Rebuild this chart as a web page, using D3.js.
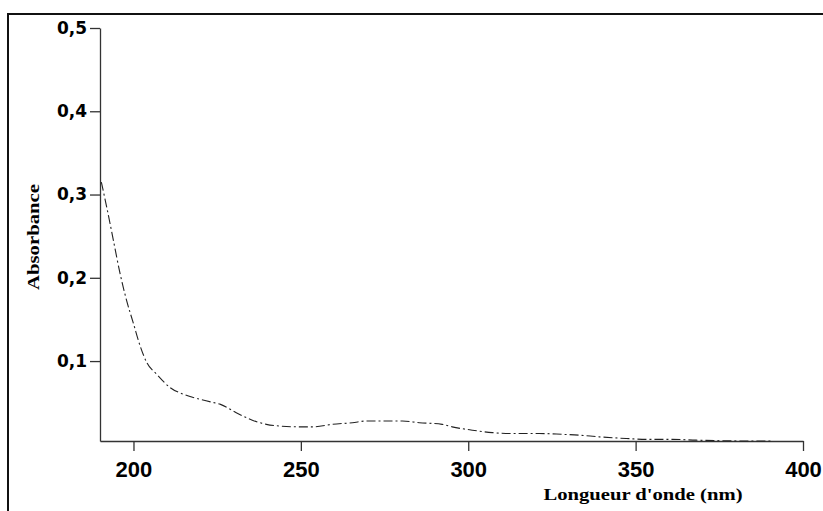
<!DOCTYPE html>
<html>
<head>
<meta charset="utf-8">
<script src="https://cdn.jsdelivr.net/npm/d3@7"></script>
<style>
  body { margin: 0; background: #fff; }
  svg { display: block; }
</style>
</head>
<body>
<script>
// spectre UV : absorbance vs longueur d'onde
const wavelength = [190.4, 192, 194, 196, 198, 200, 202, 204, 207, 211, 215, 219, 223, 226,
  230.7, 235.5, 239.7, 243.6, 249.6, 253.4, 259.4, 265.4, 269.6, 276.4, 280.3, 285.4, 292.2, 295.2, 301.2,
  307.2, 313.1, 321.2, 328.1, 333.1, 339.1, 347.2, 353.1, 360.9, 368.1, 384.8, 390.7]
const absorbance = [0.315, 0.285, 0.245, 0.205, 0.172, 0.145, 0.118, 0.098, 0.084, 0.068, 0.060, 0.055, 0.051, 0.048,
  0.038, 0.029, 0.024, 0.022, 0.021, 0.021, 0.024, 0.026, 0.028, 0.028, 0.028, 0.026, 0.024, 0.021, 0.017,
  0.014, 0.013, 0.013, 0.012, 0.011, 0.009, 0.007, 0.006, 0.006, 0.005, 0.004, 0.004]
const xTicks = [200, 250, 300, 350, 400]
const yTicks = [0.1, 0.2, 0.3, 0.4, 0.5]

const width = 823, height = 511

const svg = d3.select("body").append("svg")
    .attr("width", width)
    .attr("height", height)

// cadre extérieur
svg.append("rect")
    .attr("x", 8).attr("y", 14)
    .attr("width", 830).attr("height", 520)
    .attr("fill", "none")
    .attr("stroke", "#111")
    .attr("stroke-width", 2)

const x = d3.scaleLinear().domain([190, 400]).range([100, 803])
const y = d3.scaleLinear().domain([0.004, 0.5]).range([441, 28])

// axe x
const gx = svg.append("g")
    .attr("transform", `translate(0,${y(0.004)})`)
    .call(d3.axisBottom(x).tickValues(xTicks).tickSize(10).tickSizeOuter(0).tickPadding(10))
gx.select(".domain").attr("stroke", "#333").attr("stroke-width", 1.3)
gx.selectAll(".tick line").attr("stroke", "#333").attr("stroke-width", 1.3)
gx.selectAll("text")
    .attr("font-family", "'Liberation Sans', Arial, sans-serif")
    .attr("font-weight", "bold")
    .attr("font-size", 22)
    .attr("fill", "#000")

// axe y
const gy = svg.append("g")
    .attr("transform", `translate(${x(190)},0)`)
    .call(d3.axisLeft(y).tickValues(yTicks).tickSize(10).tickSizeOuter(0).tickPadding(3)
      .tickFormat(d => d3.format(".1f")(d).replace(".", ",")))
gy.select(".domain").attr("stroke", "#333").attr("stroke-width", 1.3)
gy.selectAll(".tick line").attr("stroke", "#333").attr("stroke-width", 1.3)
gy.selectAll("text")
    .attr("font-family", "'DejaVu Sans', sans-serif")
    .attr("font-weight", "bold")
    .attr("font-size", 17)
    .attr("fill", "#000")

// titres des axes
svg.append("text")
    .attr("transform", "translate(39,237) rotate(-90)")
    .attr("text-anchor", "middle")
    .attr("font-family", "'Liberation Serif', 'Times New Roman', serif")
    .attr("font-weight", "bold")
    .attr("font-size", 16)
    .attr("textLength", 106)
    .attr("lengthAdjust", "spacingAndGlyphs")
    .text("Absorbance")

svg.append("text")
    .attr("x", 643).attr("y", 500)
    .attr("text-anchor", "middle")
    .attr("font-family", "'Liberation Serif', 'Times New Roman', serif")
    .attr("font-weight", "bold")
    .attr("font-size", 17)
    .attr("textLength", 199)
    .attr("lengthAdjust", "spacingAndGlyphs")
    .text("Longueur d'onde (nm)")

// courbe
const pts = wavelength.map((w, i) => [w, absorbance[i]])
const line = d3.line()
    .x(d => x(d[0]))
    .y(d => y(d[1]))
    .curve(d3.curveMonotoneX)

svg.append("path")
    .datum(pts)
    .attr("d", line)
    .attr("fill", "none")
    .attr("stroke", "#222")
    .attr("stroke-width", 1.1)
    .attr("stroke-dasharray", "9,3,2,3")
</script>
</body>
</html>
